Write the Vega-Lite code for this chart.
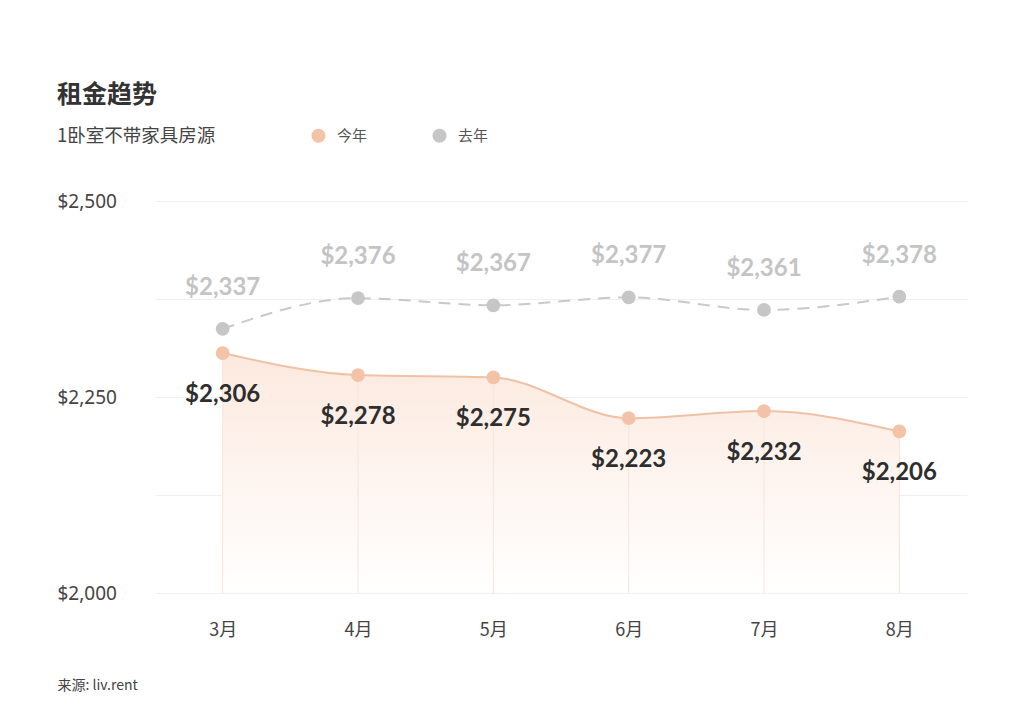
{
  "$schema": "https://vega.github.io/schema/vega-lite/v6.json",
  "width": 812,
  "height": 392,
  "padding": {"top": 83, "left": 57, "right": 57, "bottom": 10},
  "background": "white",
  "title": {
    "text": "租金趋势",
    "anchor": "start",
    "frame": "bounds",
    "font": "Noto Sans CJK SC",
    "fontSize": 25,
    "fontWeight": "bold",
    "color": "#333333",
    "offset": 20
  },
  "data": {
    "values": [
      {"month": "3月", "series": "今年", "value": 2306},
      {"month": "4月", "series": "今年", "value": 2278},
      {"month": "5月", "series": "今年", "value": 2275},
      {"month": "6月", "series": "今年", "value": 2223},
      {"month": "7月", "series": "今年", "value": 2232},
      {"month": "8月", "series": "今年", "value": 2206},
      {"month": "3月", "series": "去年", "value": 2337},
      {"month": "4月", "series": "去年", "value": 2376},
      {"month": "5月", "series": "去年", "value": 2367},
      {"month": "6月", "series": "去年", "value": 2377},
      {"month": "7月", "series": "去年", "value": 2361},
      {"month": "8月", "series": "去年", "value": 2378}
    ]
  },
  "encoding": {
    "x": {
      "field": "month",
      "type": "ordinal",
      "sort": ["3月", "4月", "5月", "6月", "7月", "8月"],
      "scale": {"type": "point", "padding": 0.5},
      "axis": {
        "title": "来源: liv.rent",
        "titleAnchor": "start",
        "titleAlign": "left",
        "titleX": -98,
        "titleY": 92,
        "titleBaseline": "middle",
        "titleFont": "Noto Sans CJK SC",
        "titleFontSize": 14,
        "titleFontWeight": "normal",
        "titleColor": "#444444",
        "labelAngle": 0,
        "labelPadding": 28,
        "labelFont": "Noto Sans CJK SC",
        "labelFontSize": 18,
        "labelColor": "#444444",
        "domain": false,
        "ticks": false,
        "grid": false
      }
    },
    "y": {
      "field": "value",
      "type": "quantitative",
      "scale": {"domain": [2000, 2500], "nice": false, "zero": false},
      "axis": {
        "title": null,
        "values": [2000, 2125, 2250, 2375, 2500],
        "labelExpr": "datum.value % 250 == 0 ? format(datum.value, '$,') : ''",
        "labelAlign": "left",
        "labelBaseline": "middle",
        "labelPadding": 98,
        "labelFont": "Noto Sans",
        "labelFontSize": 19,
        "labelColor": "#444444",
        "domain": false,
        "ticks": false,
        "gridColor": "#f0f0f0",
        "gridWidth": 1
      }
    }
  },
  "layer": [
    {
      "transform": [{"filter": "datum.series == '今年'"}],
      "mark": {
        "type": "area",
        "interpolate": "monotone",
        "color": {
          "gradient": "linear",
          "x1": 1, "y1": 1, "x2": 1, "y2": 0,
          "stops": [
            {"offset": 0, "color": "#ffffff"},
            {"offset": 1, "color": "#fce9de"}
          ]
        }
      },
      "encoding": {"y2": {"datum": 2000}}
    },
    {
      "transform": [{"filter": "datum.series == '今年'"}],
      "mark": {"type": "rule", "color": "#f3e6de", "strokeWidth": 1},
      "encoding": {"y2": {"datum": 2000}}
    },
    {
      "transform": [{"filter": "datum.series == '去年'"}],
      "mark": {
        "type": "line",
        "interpolate": "monotone",
        "color": "#c9c9c9",
        "strokeWidth": 2,
        "strokeDash": [12, 8]
      }
    },
    {
      "transform": [{"filter": "datum.series == '今年'"}],
      "mark": {
        "type": "line",
        "interpolate": "monotone",
        "color": "#efc2a5",
        "strokeWidth": 2
      }
    },
    {
      "mark": {"type": "point", "filled": true, "opacity": 1, "size": 190},
      "encoding": {
        "color": {
          "field": "series",
          "type": "nominal",
          "scale": {"domain": ["今年", "去年"], "range": ["#f2c3a6", "#c6c6c6"]},
          "legend": {
            "title": "1卧室不带家具房源",
            "orient": "none",
            "legendX": -98,
            "legendY": -73,
            "direction": "horizontal",
            "titleOrient": "left",
            "titleFont": "Noto Sans CJK SC",
            "titleFontSize": 18.5,
            "titleFontWeight": "normal",
            "titleColor": "#444444",
            "titlePadding": 95,
            "titleLimit": 300,
            "titleBaseline": "middle",
            "symbolType": "circle",
            "symbolSize": 200,
            "symbolStrokeWidth": 0,
            "labelFont": "Noto Sans CJK SC",
            "labelFontSize": 15,
            "labelColor": "#555555",
            "labelOffset": 11,
            "columnPadding": 64
          }
        }
      }
    },
    {
      "transform": [{"filter": "datum.series == '今年'"}],
      "mark": {
        "type": "text",
        "dy": 42,
        "font": "Lato",
        "fontSize": 24,
        "fontWeight": "bold",
        "color": "#2e2e2e"
      },
      "encoding": {"text": {"field": "value", "type": "quantitative", "format": "$,"}}
    },
    {
      "transform": [{"filter": "datum.series == '去年'"}],
      "mark": {
        "type": "text",
        "dy": -41,
        "font": "Lato",
        "fontSize": 24,
        "fontWeight": "bold",
        "color": "#c4c4c4"
      },
      "encoding": {"text": {"field": "value", "type": "quantitative", "format": "$,"}}
    }
  ],
  "config": {"view": {"stroke": null}}
}
